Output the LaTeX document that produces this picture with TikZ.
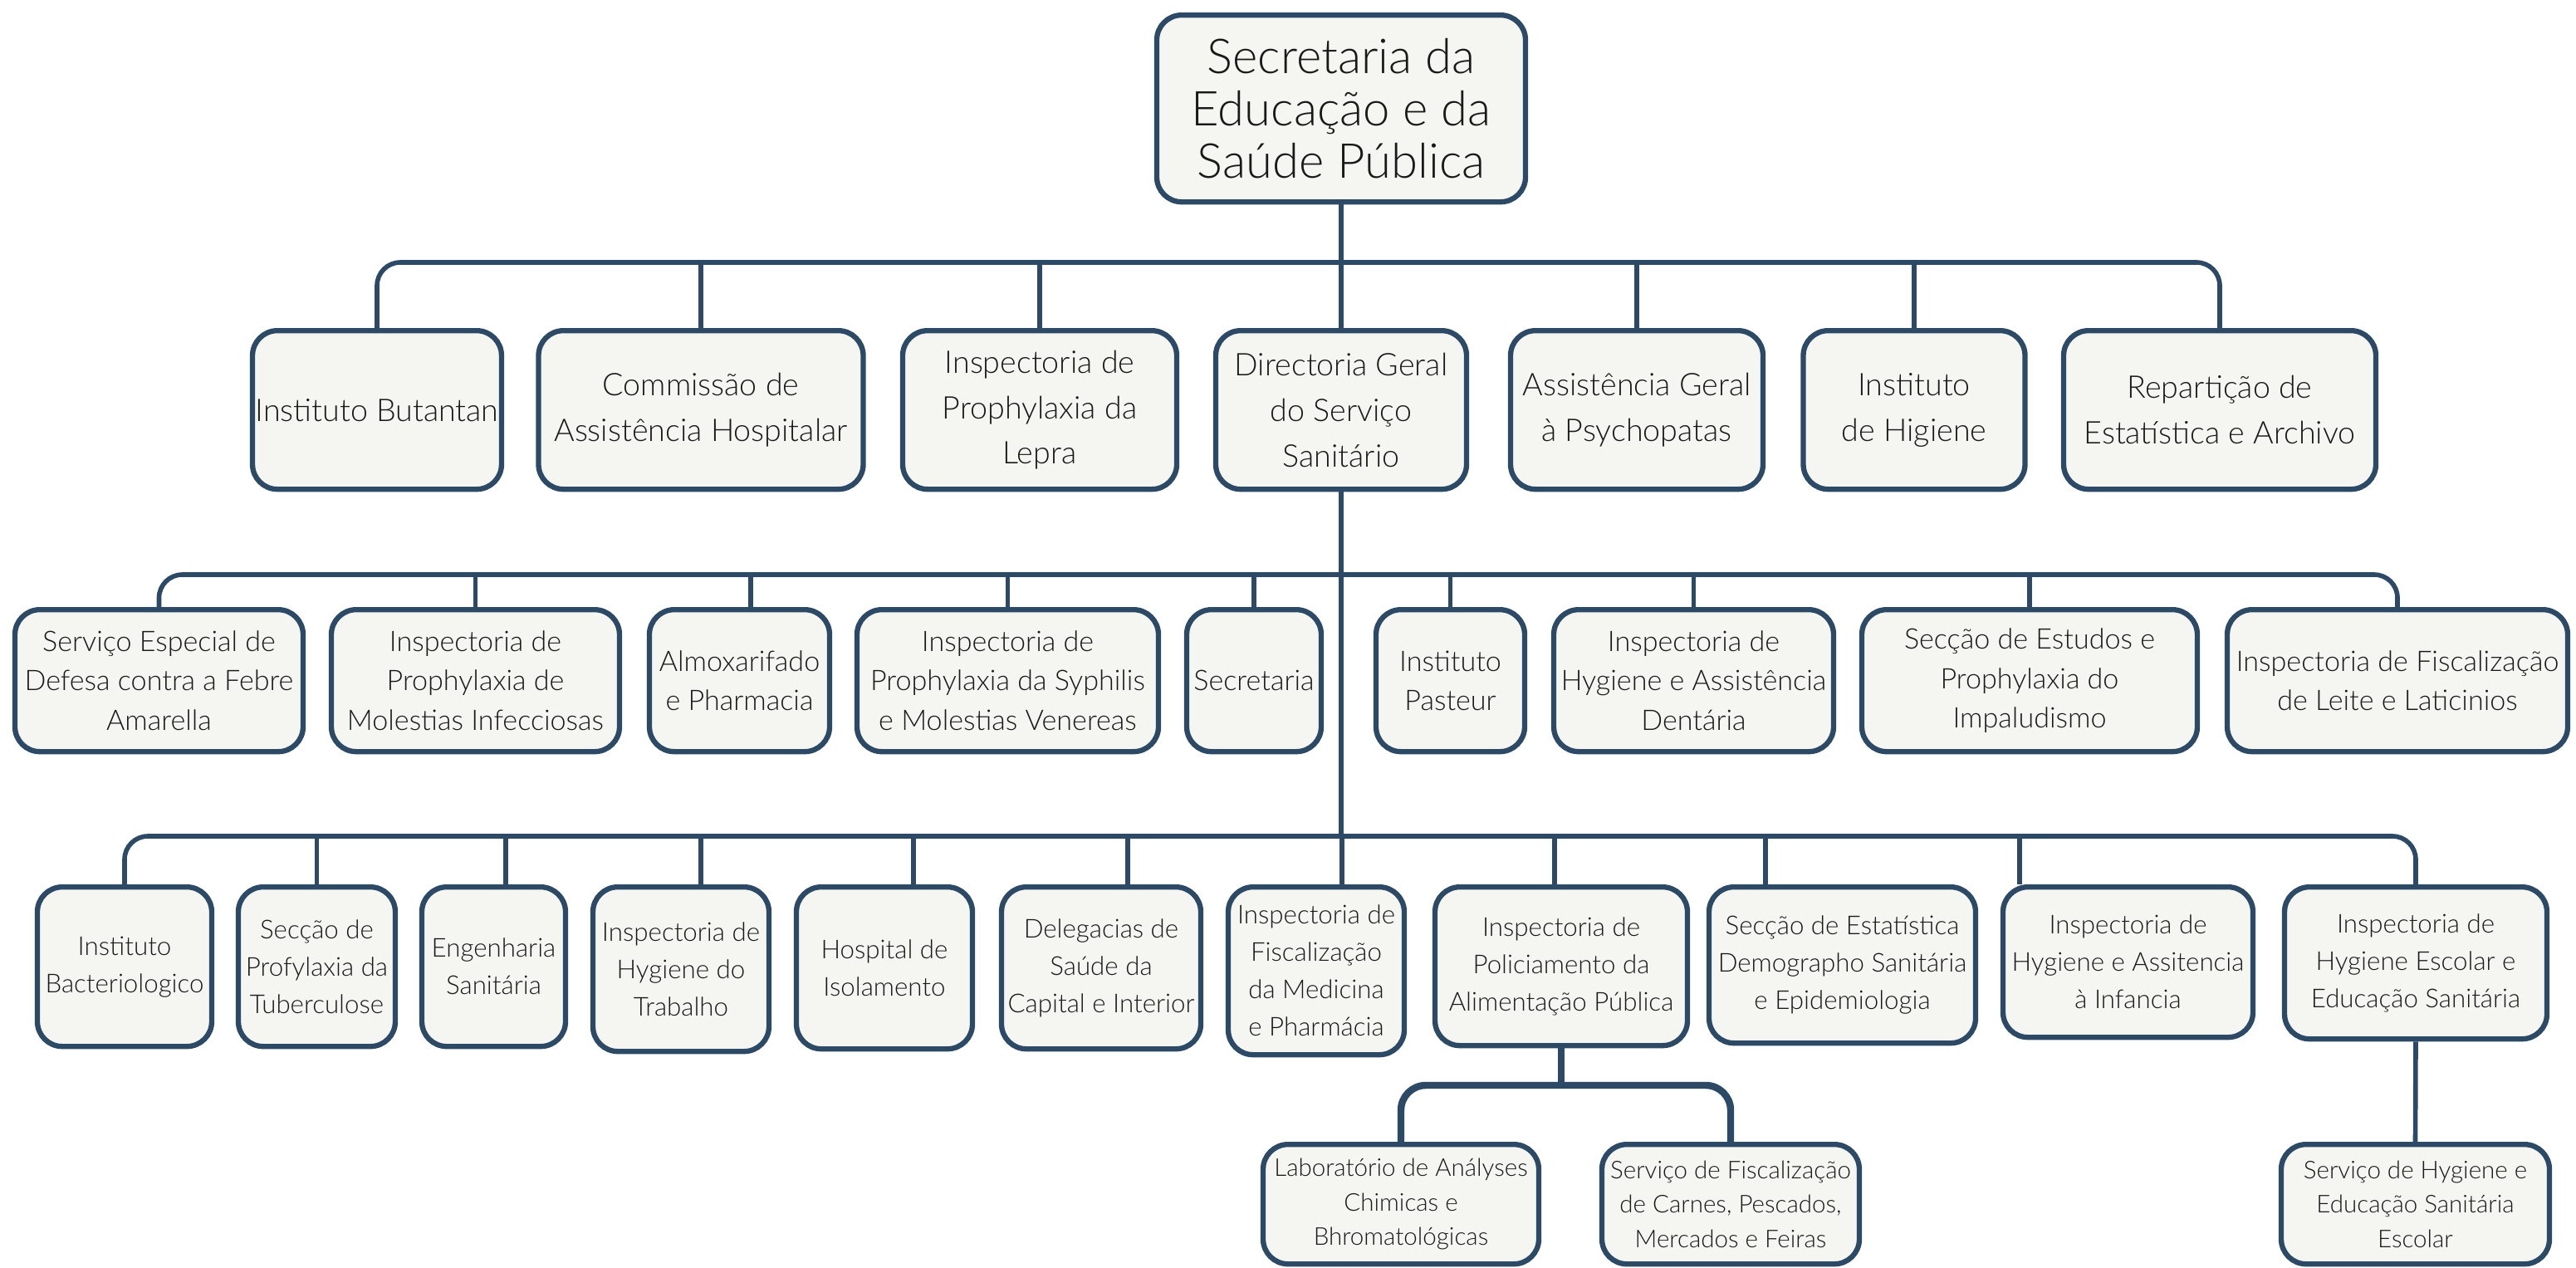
\documentclass[tikz,border=0pt]{standalone}
\usepackage{fontspec}
\setmainfont{Lato}[UprightFont=* Light]
\definecolor{bordo}{RGB}{44,74,102}
\definecolor{sfondo}{RGB}{245,246,242}
\tikzset{
  box/.style={draw=bordo, fill=sfondo, line width=1.8pt, rounded corners=0.3cm, align=center, anchor=north, inner sep=1pt, text=black!90},
  capo/.style={box, minimum width=4.44cm, minimum height=2.25cm, font=\fontsize{16.5}{17.9}\selectfont},
  liv1/.style={box, minimum height=1.91cm, font=\fontsize{10.7}{15.6}\selectfont},
  liv2/.style={box, minimum height=1.71cm, font=\fontsize{9.7}{13.4}\selectfont},
  liv3/.style={box, minimum height=1.92cm, font=\fontsize{8.9}{12.8}\selectfont},
  liv4/.style={box, minimum height=1.44cm, font=\fontsize{8.4}{11.8}\selectfont},
  linea/.style={draw=bordo, line width=1.6pt},
  linea4/.style={draw=bordo, line width=2.4pt},
}
\begin{document}
\begin{tikzpicture}
    \useasboundingbox (0,0) rectangle (31.02,-15.26);
    %vertice
    \node[capo] (sesp) at (16.15,-0.15) {Secretaria da\\Educação e da\\Saúde Pública};
    %livello 1
    \node[liv1, minimum width=2.96cm] (butantan) at (4.54,-3.95) {Instituto Butantan};
    \node[liv1, minimum width=3.91cm] (commissao) at (8.44,-3.95) {Commissão de\\Assistência Hospitalar};
    \node[liv1, minimum width=3.30cm] (lepra) at (12.52,-3.95) {Inspectoria de\\Prophylaxia da\\Lepra};
    \node[liv1, minimum width=3.02cm] (directoria) at (16.15,-3.95) {Directoria Geral\\do Serviço\\Sanitário};
    \node[liv1, minimum width=3.04cm] (psychopatas) at (19.71,-3.95) {Assistência Geral\\à Psychopatas};
    \node[liv1, minimum width=2.67cm] (higiene) at (23.05,-3.95) {Instituto\\de Higiene};
    \node[liv1, minimum width=3.76cm] (reparticao) at (26.73,-3.95) {Repartição de\\Estatística e Archivo};
    \coordinate (b1) at (16.15,-3.16);
    \draw[linea, rounded corners=0.28cm] (butantan.north) |- (b1) -| (reparticao.north);
    \draw[linea] (sesp.south) -- (directoria.north);
    \foreach \n in {commissao,lepra,psychopatas,higiene}
        \draw[linea] (\n.north) -- (\n.north |- b1);
    %livello 2
    \node[liv2, minimum width=3.47cm] (febre) at (1.915,-7.31) {Serviço Especial de\\Defesa contra a Febre\\Amarella};
    \node[liv2, minimum width=3.47cm] (infecciosas) at (5.725,-7.31) {Inspectoria de\\Prophylaxia de\\Molestias Infecciosas};
    \node[liv2, minimum width=2.17cm] (almox) at (8.905,-7.31) {Almoxarifado\\e Pharmacia};
    \node[liv2, minimum width=3.63cm] (syphilis) at (12.135,-7.31) {Inspectoria de\\Prophylaxia da Syphilis\\e Molestias Venereas};
    \node[liv2, minimum width=1.62cm] (secr) at (15.10,-7.31) {Secretaria};
    \node[liv2, minimum width=1.79cm] (pasteur) at (17.465,-7.31) {Instituto\\Pasteur};
    \node[liv2, minimum width=3.37cm] (dentaria) at (20.395,-7.31) {Inspectoria de\\Hygiene e Assistência\\Dentária};
    \node[liv2, minimum width=4.04cm] (impaludismo) at (24.44,-7.31) {Secção de Estudos e\\Prophylaxia do\\Impaludismo};
    \node[liv2, minimum width=4.10cm] (leite) at (28.87,-7.31) {Inspectoria de Fiscalização\\de Leite e Laticinios};
    \coordinate (b2) at (16.15,-6.92);
    \draw[linea, rounded corners=0.28cm] (febre.north) |- (b2) -| (leite.north);
    \foreach \n in {infecciosas,syphilis,secr,pasteur,dentaria,impaludismo}
        \draw[linea] (\n.north) -- (\n.north |- b2);
    \draw[linea] ([xshift=1.35mm]almox.north) |- (b2);
    %livello 3
    \node[liv3, minimum width=2.10cm] (bacterio) at (1.50,-10.65) {Instituto\\Bacteriologico};
    \node[liv3, minimum width=1.89cm] (tuberculose) at (3.815,-10.65) {Secção de\\Profylaxia da\\Tuberculose};
    \node[liv3, minimum width=1.73cm] (engenharia) at (5.945,-10.65) {Engenharia\\Sanitária};
    \node[liv3, minimum width=2.12cm, minimum height=1.98cm] (trabalho) at (8.20,-10.65) {Inspectoria de\\Hygiene do\\Trabalho};
    \node[liv3, minimum width=2.12cm, minimum height=1.95cm] (hospital) at (10.65,-10.65) {Hospital de\\Isolamento};
    \node[liv3, minimum width=2.40cm, minimum height=1.95cm] (delegacias) at (13.26,-10.65) {Delegacias de\\Saúde da\\Capital e Interior};
    \node[liv3, minimum width=2.12cm, minimum height=2.02cm] (medicina) at (15.85,-10.65) {Inspectoria de\\Fiscalização\\da Medicina\\e Pharmácia};
    \node[liv3, minimum width=3.04cm, minimum height=1.91cm] (policiamento) at (18.80,-10.65) {Inspectoria de\\Policiamento da\\Alimentação Pública};
    \node[liv3, minimum width=3.21cm, minimum height=1.88cm] (estatistica) at (22.185,-10.65) {Secção de Estatística\\Demographo Sanitária\\e Epidemiologia};
    \node[liv3, minimum width=3.01cm, minimum height=1.81cm] (infancia) at (25.625,-10.65) {Inspectoria de\\Hygiene e Assitencia\\à Infancia};
    \node[liv3, minimum width=3.16cm, minimum height=1.83cm] (escolar) at (29.09,-10.65) {Inspectoria de\\Hygiene Escolar e\\Educação Sanitária};
    \coordinate (b3) at (16.15,-10.07);
    \draw[linea] (directoria.south) -- (b3);
    \draw[linea, rounded corners=0.28cm] (bacterio.north) |- (b3) -| (escolar.north);
    \draw[linea] (tuberculose.north) |- (b3);
    \draw[linea] ([xshift=1.45mm]engenharia.north) |- (b3);
    \draw[linea] ([xshift=2.4mm]trabalho.north) |- (b3);
    \draw[linea] ([xshift=3.5mm]hospital.north) |- (b3);
    \draw[linea] ([xshift=3.2mm]delegacias.north) |- (b3);
    \draw[linea] ([xshift=3.1mm]medicina.north) |- (b3);
    \draw[linea] ([xshift=-0.8mm]policiamento.north) |- (b3);
    \draw[linea] ([xshift=-9.25mm]estatistica.north) |- (b3);
    \draw[linea] ([xshift=-13.05mm]infancia.north) |- (b3);
    %livello 4
    \node[liv4, minimum width=3.32cm] (laboratorio) at (16.87,-13.75) {Laboratório de Anályses\\Chimicas e\\Bhromatológicas};
    \node[liv4, minimum width=3.10cm] (carnes) at (20.84,-13.75) {Serviço de Fiscalização\\de Carnes, Pescados,\\Mercados e Feiras};
    \node[liv4, minimum width=3.23cm] (servescolar) at (29.085,-13.75) {Serviço de Hygiene e\\Educação Sanitária\\Escolar};
    \coordinate (b4) at (18.80,-13.07);
    \draw[linea4] (policiamento.south) -- (b4);
    \draw[linea4, rounded corners=0.3cm] (laboratorio.north) |- (b4) -| (carnes.north);
    \draw[linea] (escolar.south) -- (servescolar.north);
\end{tikzpicture}
\end{document}
